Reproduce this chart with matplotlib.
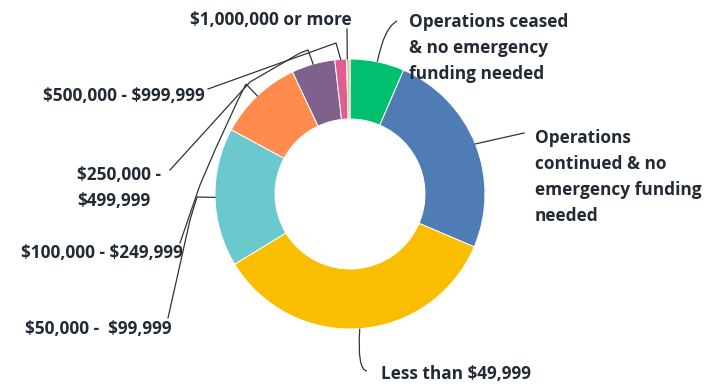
import numpy as np
import matplotlib
matplotlib.use("Agg")
import matplotlib.pyplot as plt
from matplotlib.path import Path
from matplotlib.patches import PathPatch

# share of respondents per funding answer, clockwise from 12 o'clock
labels = [
    "Operations ceased\n& no emergency\nfunding needed",
    "Operations\ncontinued & no\nemergency funding\nneeded",
    "Less than $49,999",
    "$50,000 -  $99,999",
    "$100,000 - $249,999",
    "$250,000 -\n$499,999",
    "$500,000 - $999,999",
    "$1,000,000 or more",
]
shares = [6.5, 24.9, 34.9, 16.6, 10.1, 5.2, 1.4, 0.4]
colors = ["#00BF6F", "#507CB6", "#F9BE00", "#6BC8CD",
          "#FF8B4F", "#7F628B", "#E05E8F", "#D7C498"]

W, H = 705, 386
CX, CY, R, RING = 350, 194, 135, 60
TXT = "#222b35"


def Y(y):
    # work in screen pixels, y measured from the top
    return H - y


fig = plt.figure(figsize=(W / 100, H / 100), dpi=100)
ax = fig.add_axes([0, 0, 1, 1])

wedges, _ = ax.pie(shares, colors=colors, startangle=90, counterclock=False,
                   center=(CX, Y(CY)), radius=R,
                   wedgeprops=dict(width=RING, edgecolor="white", linewidth=0.7))
ax.set_xlim(0, W)
ax.set_ylim(0, H)
ax.set_aspect("equal")
ax.axis("off")


def rim(w):
    a = np.deg2rad((w.theta1 + w.theta2) / 2)
    return CX + R * np.cos(a), CY - R * np.sin(a)


def line(pts, curve=False):
    pts = [(x, Y(y)) for x, y in pts]
    if curve:
        codes = [Path.MOVETO] + [Path.CURVE3] * (len(pts) - 1)
        ax.add_patch(PathPatch(Path(pts, codes), fill=False, lw=0.9, ec="#333333"))
    else:
        xs, ys = zip(*pts)
        ax.plot(xs, ys, color="#333333", lw=0.9, solid_joinstyle="miter")


font = dict(family=["Open Sans", "DejaVu Sans"], weight="bold",
            fontsize=12.4, color=TXT, linespacing=1.55, parse_math=False)

# right-hand labels
ax.text(409, Y(48), labels[0], ha="left", va="center", **font)
ax.text(535, Y(177), labels[1], ha="left", va="center", **font)
ax.text(381, Y(374), labels[2], ha="left", va="center", **font)
# left-hand labels
ax.text(172, Y(329), labels[3], ha="right", va="center", **font)
ax.text(183, Y(253), labels[4], ha="right", va="center", **font)
ax.text(77, Y(188), labels[5], ha="left", va="center", **font)
ax.text(205, Y(96), labels[6], ha="right", va="center", **font)
ax.text(352, Y(20), labels[7], ha="right", va="center", **font)

# leader lines
x, y = rim(wedges[0])
line([(397, 21), (384, 28), (x, y)], curve=True)
x, y = rim(wedges[1])
line([(524, 133), (x, y)])
x, y = rim(wedges[2])
line([(367, 371), (357, 370), (x, y)], curve=True)
x, y = rim(wedges[3])
line([(168, 318), (190, 220), (197, 197), (x, y)])
x, y = rim(wedges[4])
line([(180, 243), (200, 185), (215, 150), (238, 100), (246, 84), (x, y)])
x, y = rim(wedges[5])
line([(170, 170), (250, 82), (300, 53), (308, 50), (x, y)])
x, y = rim(wedges[6])
line([(208, 89), (336, 43), (x, y)])
x, y = rim(wedges[7])
line([(347, 29), (x - 1, y)])

fig.savefig("out.png", dpi=100)
